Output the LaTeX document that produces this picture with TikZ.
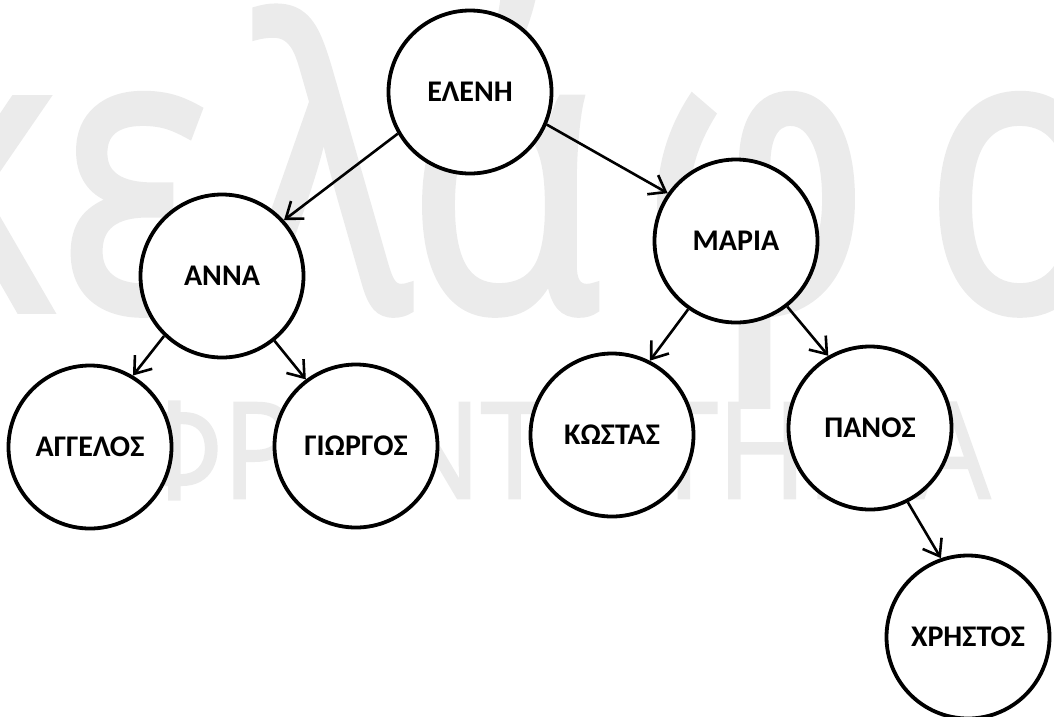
\documentclass[tikz,border=0pt]{standalone}
\usepackage{fontspec}
\setmainfont{Carlito}
\newfontfamily\wmfont[FakeBold=2]{Open Sans}
\usetikzlibrary{arrows.meta}
\begin{document}
\begin{tikzpicture}[x=1pt,y=-1pt,
  person/.style={circle,draw=black,fill=white,line width=3.8pt,minimum size=163pt,inner sep=0pt,
    font=\fontsize{30}{30}\selectfont\bfseries},
  link/.style={line width=2.6pt,-{Straight Barb[length=15pt,width=22pt]}},
  wm/.style={text=black!8,inner sep=0pt,anchor=base}]
\useasboundingbox (0,0) rectangle (1054,716);
\begin{scope}
\clip (0,0) rectangle (1054,716);
\begin{scope}[every node/.style={wm,xscale=0.8,font=\wmfont\fontsize{395}{395}\selectfont}]
\node (wk) at (-30,310) {κ};
\node (we) at (135,310) {ε};
\node (wl) at (326,310) {λ};
\node (wa) at (504,310) {ά};
\node (wf) at (756,310) {φ};
\node (wo) at (1020,310) {ο};
\end{scope}
\node[wm,font=\wmfont\fontsize{133}{133}\selectfont,xscale=0.91] (wt) at (558,498) {ΦΡΟΝΤΙΣΤΗΡΙΑ};
\end{scope}

\node[person] (eleni) at (470,92) {ΕΛΕΝΗ};
\node[person] (anna) at (222,276) {ΑΝΝΑ};
\node[person] (maria) at (736,241) {ΜΑΡΙΑ};
\node[person] (aggelos) at (90,447) {ΑΓΓΕΛΟΣ};
\node[person] (giorgos) at (356,446) {ΓΙΩΡΓΟΣ};
\node[person] (kostas) at (612,435) {ΚΩΣΤΑΣ};
\node[person] (panos) at (870,428) {ΠΑΝΟΣ};
\node[person] (christos) at (968,637) {ΧΡΗΣΤΟΣ};

\draw[link] (eleni.210) -- (anna.42);
\draw[link] (eleni.337) -- (maria.145);
\draw[link] (anna.226) -- (aggelos.59);
\draw[link] (anna.309) -- (giorgos.127);
\draw[link] (maria.235) -- (kostas.63);
\draw[link] (maria.308) -- (panos.120);
\draw[link] (panos.297) -- (christos.109);
\end{tikzpicture}
\end{document}
